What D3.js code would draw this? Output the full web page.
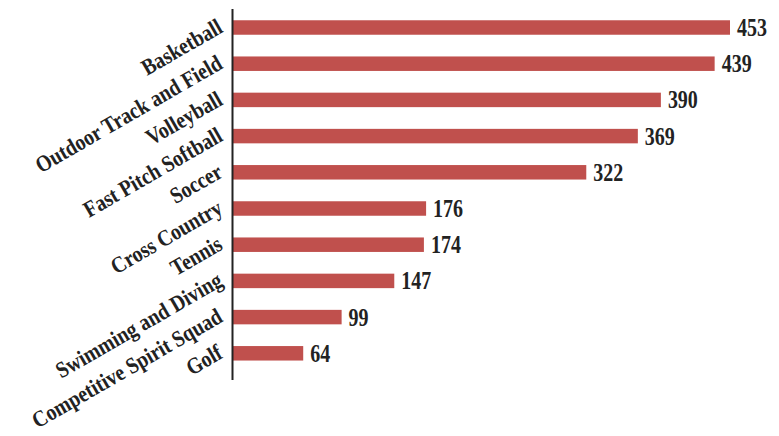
<!DOCTYPE html>
<html>
<head>
<meta charset="utf-8">
<script src="https://cdn.jsdelivr.net/npm/d3@7/dist/d3.min.js"></script>
<style>
  html, body { margin: 0; padding: 0; background: #fff; }
  svg { display: block; }
</style>
</head>
<body>
<svg id="chart" width="779" height="436"></svg>
<script>
// Participation counts by sport
const sports = [
  "Basketball", "Outdoor Track and Field", "Volleyball", "Fast Pitch Softball",
  "Soccer", "Cross Country", "Tennis", "Swimming and Diving",
  "Competitive Spirit Squad", "Golf"
];
const counts = [453, 439, 390, 369, 322, 176, 174, 147, 99, 64];

const svg = d3.select("#chart");
const fontFamily = "'Liberation Serif', 'Times New Roman', serif";

const axisX = 233;
const x = d3.scaleLinear().domain([0, 453]).range([axisX, 730]);
const y = d3.scaleBand().domain(sports).range([9.4, 371.4]).paddingInner(0.6).paddingOuter(0.3);

const data = sports.map((s, i) => ({ sport: s, value: counts[i] }));

// bars
svg.append("g").selectAll("rect").data(data).join("rect")
  .attr("x", x(0))
  .attr("y", d => y(d.sport))
  .attr("width", d => x(d.value) - x(0))
  .attr("height", y.bandwidth())
  .attr("fill", "#c0504d");

// value labels (narrow bold serif)
svg.append("g").selectAll("text").data(data).join("text")
  .attr("transform", d => `translate(${x(d.value) + 7},${y(d.sport) + y.bandwidth() / 2}) scale(0.8,1)`)
  .attr("dy", "0.34em")
  .attr("font-family", fontFamily)
  .attr("font-weight", "bold")
  .attr("font-size", 25)
  .attr("fill", "#222")
  .text(d => d.value);

// category labels, slanted
svg.append("g").selectAll("text").data(data).join("text")
  .attr("transform", d => `translate(${axisX - 9},${y(d.sport) + y.bandwidth() / 2 + 4}) rotate(-30) scale(0.86,1)`)
  .attr("text-anchor", "end")
  .attr("font-family", fontFamily)
  .attr("font-weight", "bold")
  .attr("font-size", 23)
  .attr("fill", "#222")
  .text(d => d.sport);

// vertical axis line
svg.append("line")
  .attr("x1", axisX - 0.5).attr("x2", axisX - 0.5)
  .attr("y1", 9).attr("y2", 380)
  .attr("stroke", "#222")
  .attr("stroke-width", 2);
</script>
</body>
</html>
